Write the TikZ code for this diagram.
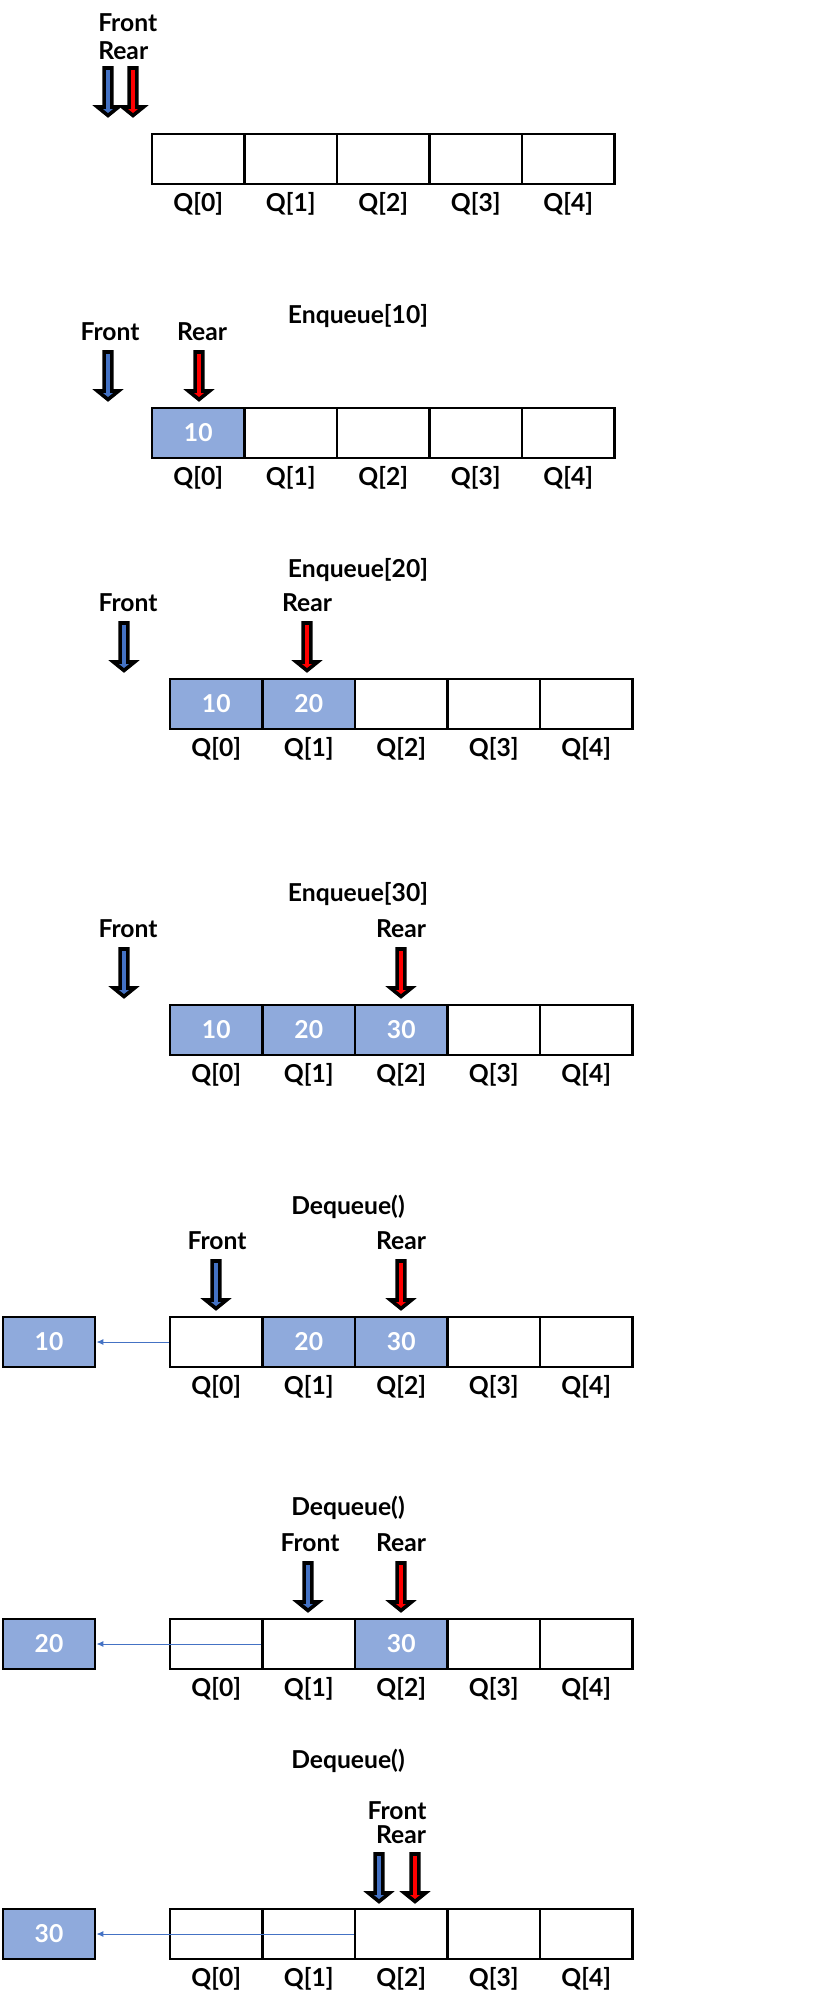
\documentclass[tikz,border=0pt]{standalone}
\usepackage{fontspec}
\setmainfont{Lato}
\usetikzlibrary{arrows.meta}
\definecolor{cellblue}{HTML}{8FAADC}
\definecolor{frontblue}{HTML}{4472C4}
\definecolor{rearred}{HTML}{FF0000}
\newcommand\qfont{\fontsize{18.5}{21}\selectfont\bfseries}
\tikzset{> = Latex,
	cell/.style={draw=black, line width=1.7pt, minimum width=69.4pt, minimum height=37.5pt, inner sep=0pt, font=\qfont, text=white},
	full/.style={cell, fill=cellblue},
	lbl/.style={font=\qfont, inner sep=0pt, anchor=base},
	ptr/.style={draw=black, line width=2.7pt, line join=miter},
	take/.style={->, frontblue, line width=0.75pt, >={Latex[length=5.25pt,width=4.5pt]}}}
% pointer arrow: colour, centre x, tip y
\newcommand\pointer[3]{\draw[ptr,fill=#1] ({#2-3.9},{#3-50})--({#2+3.9},{#3-50})--({#2+3.9},{#3-11})--({#2+10.5},{#3-11})--({#2},{#3-2.5})--({#2-10.5},{#3-11})--({#2-3.9},{#3-11})--cycle;}

\begin{document}
\begin{tikzpicture}[x=0.75pt,y=-0.75pt]
	\useasboundingbox (0,0) rectangle (830,2006);
	%empty queue
	\node[lbl,anchor=base west] (fa) at (98,31){Front};
	\node[lbl,anchor=base west] (ra) at (98,59){Rear};
	\pointer{frontblue}{108}{118}
	\pointer{rearred}{133}{118}
	\foreach \i in {0,...,4}{
		\node[cell] (a\i) at ({198.25+92.5*\i},159){};
		\node[lbl] (qa\i) at ({198.25+92.5*\i},211){Q[\i]};}
	%Enqueue[10]
	\node[lbl] (tb) at (358,323){Enqueue[10]};
	\node[lbl] (fb) at (110,340){Front};
	\node[lbl] (rb) at (202,340){Rear};
	\pointer{frontblue}{108}{402}
	\pointer{rearred}{199}{402}
	\node[full] (b0) at (198.25,433){10};
	\foreach \i in {1,...,4} \node[cell] (b\i) at ({198.25+92.5*\i},433){};
	\foreach \i in {0,...,4} \node[lbl] (qb\i) at ({198.25+92.5*\i},485){Q[\i]};
	%Enqueue[20]
	\node[lbl] (tc) at (358,577){Enqueue[20]};
	\node[lbl] (fc) at (128,611){Front};
	\node[lbl] (rc) at (307,611){Rear};
	\pointer{frontblue}{124}{673}
	\pointer{rearred}{307}{673}
	\node[full] (c0) at (216.25,704){10};
	\node[full] (c1) at (308.75,704){20};
	\foreach \i in {2,...,4} \node[cell] (c\i) at ({216.25+92.5*\i},704){};
	\foreach \i in {0,...,4} \node[lbl] (qc\i) at ({216.25+92.5*\i},756){Q[\i]};
	%Enqueue[30]
	\node[lbl] (td) at (358,901){Enqueue[30]};
	\node[lbl] (fd) at (128,937){Front};
	\node[lbl] (rd) at (401,937){Rear};
	\pointer{frontblue}{124}{999}
	\pointer{rearred}{401}{999}
	\node[full] (d0) at (216.25,1030){10};
	\node[full] (d1) at (308.75,1030){20};
	\node[full] (d2) at (401.25,1030){30};
	\foreach \i in {3,4} \node[cell] (d\i) at ({216.25+92.5*\i},1030){};
	\foreach \i in {0,...,4} \node[lbl] (qd\i) at ({216.25+92.5*\i},1082){Q[\i]};
	%Dequeue() 10
	\node[lbl] (te) at (348,1214){Dequeue()};
	\node[lbl] (fe) at (217,1249){Front};
	\node[lbl] (re) at (401,1249){Rear};
	\pointer{frontblue}{216}{1311}
	\pointer{rearred}{401}{1311}
	\node[cell] (e0) at (216.25,1342){};
	\node[full] (e1) at (308.75,1342){20};
	\node[full] (e2) at (401.25,1342){30};
	\foreach \i in {3,4} \node[cell] (e\i) at ({216.25+92.5*\i},1342){};
	\foreach \i in {0,...,4} \node[lbl] (qe\i) at ({216.25+92.5*\i},1394){Q[\i]};
	\node[full] (oute) at (49,1342){10};
	\draw[take] (e0.west)--(oute.east);
	%Dequeue() 20
	\node[lbl] (tf) at (348,1515){Dequeue()};
	\node[lbl] (ff) at (310,1551){Front};
	\node[lbl] (rf) at (401,1551){Rear};
	\pointer{frontblue}{308}{1613}
	\pointer{rearred}{401}{1613}
	\foreach \i in {0,1} \node[cell] (f\i) at ({216.25+92.5*\i},1644){};
	\node[full] (f2) at (401.25,1644){30};
	\foreach \i in {3,4} \node[cell] (f\i) at ({216.25+92.5*\i},1644){};
	\foreach \i in {0,...,4} \node[lbl] (qf\i) at ({216.25+92.5*\i},1696){Q[\i]};
	\node[full] (outf) at (49,1644){20};
	\draw[take] (f1.west)--(outf.east);
	%Dequeue() 30
	\node[lbl] (tg) at (348,1768){Dequeue()};
	\node[lbl] (fg) at (397,1819){Front};
	\node[lbl] (rg) at (401,1843){Rear};
	\pointer{frontblue}{379}{1904}
	\pointer{rearred}{415}{1904}
	\foreach \i in {0,...,4}{
		\node[cell] (g\i) at ({216.25+92.5*\i},1934){};
		\node[lbl] (qg\i) at ({216.25+92.5*\i},1986){Q[\i]};}
	\node[full] (outg) at (49,1934){30};
	\draw[take] (g2.west)--(outg.east);
\end{tikzpicture}
\end{document}
